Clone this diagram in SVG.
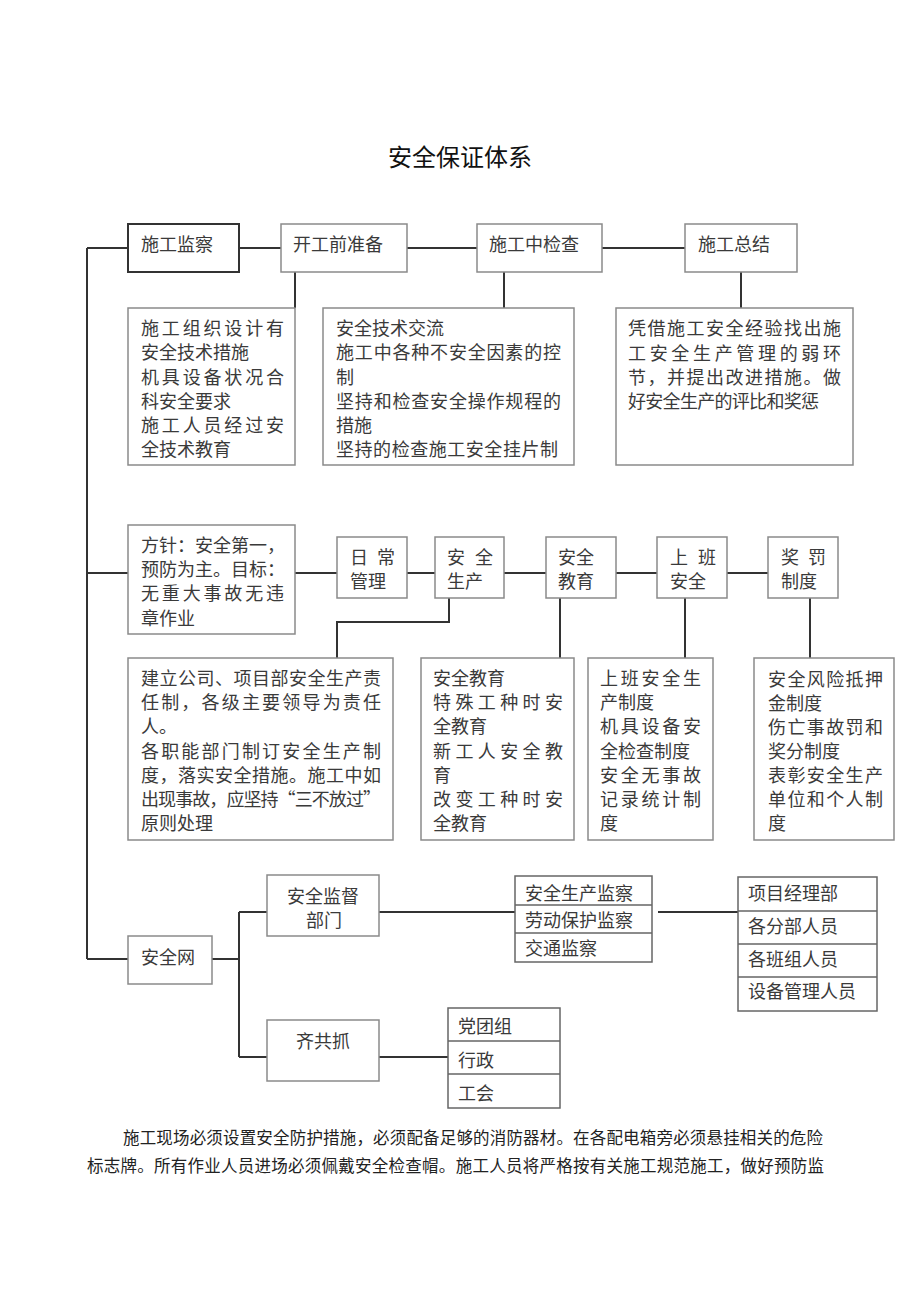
<svg xmlns="http://www.w3.org/2000/svg" width="920" height="1301" viewBox="0 0 920 1301">
<style>
text{font-family:"Noto Sans CJK SC","Noto Sans CJK TC",sans-serif;font-size:18px;fill:#3a3a3a;dominant-baseline:central}
.title{font-size:24px;fill:#111;text-anchor:middle}
.para{font-size:16.5px;fill:#222}
.c{text-anchor:middle}
.box{fill:#fff;stroke:#8a8a8a;stroke-width:1.5}
.dark{fill:#fff;stroke:#333;stroke-width:2}
.grp{fill:#fff;stroke:#666;stroke-width:1.5}
.div{stroke:#666;stroke-width:1.5}
.con{fill:none;stroke:#333;stroke-width:2}
</style>
<rect width="920" height="1301" fill="#fff"/>
<text class="title" x="460" y="155">安全保证体系</text>

<g id="connectors">
<path class="con" d="M87,248V959M87,248H128M87,573H128M87,959H128"/>
<path class="con" d="M239,248H281M407,248H477M602,248H685"/>
<path class="con" d="M295,272V308M504,272V308M741,272V308"/>
<path class="con" d="M295,573H337M407,573H435M504,573H546M616,573H657M727,573H768"/>
<path class="con" d="M449,598V622H337V658M560,598V658M685,598V658M810,598V658"/>
<path class="con" d="M212,959H239M239,912V1057M239,912H267M239,1057H267"/>
<path class="con" d="M379,912H515M658,912H740M379,1057H448"/>
</g>

<g id="n-jiancha"><rect class="dark" x="128" y="224" width="111" height="48"/><text x="141" y="243">施工监察</text></g>
<g id="n-zhunbei"><rect class="box" x="281" y="224" width="126" height="48"/><text x="293" y="243">开工前准备</text></g>
<g id="n-jiancha2"><rect class="box" x="477" y="224" width="125" height="48"/><text x="489" y="243">施工中检查</text></g>
<g id="n-zongjie"><rect class="box" x="685" y="224" width="112" height="48"/><text x="698" y="243">施工总结</text></g>

<g id="n-top1"><rect class="box" x="128" y="308" width="167" height="157"/>
<text x="141" y="327" textLength="143" lengthAdjust="spacing">施工组织设计有</text>
<text x="141" y="351">安全技术措施</text>
<text x="141" y="375.5" textLength="143" lengthAdjust="spacing">机具设备状况合</text>
<text x="141" y="400">科安全要求</text>
<text x="141" y="424" textLength="143" lengthAdjust="spacing">施工人员经过安</text>
<text x="141" y="448">全技术教育</text>
</g>
<g id="n-top2"><rect class="box" x="323" y="308" width="251" height="157"/>
<text x="336" y="327">安全技术交流</text>
<text x="336" y="351" textLength="225" lengthAdjust="spacing">施工中各种不安全因素的控</text>
<text x="336" y="375.5">制</text>
<text x="336" y="400" textLength="225" lengthAdjust="spacing">坚持和检查安全操作规程的</text>
<text x="336" y="424">措施</text>
<text x="336" y="448" textLength="222" lengthAdjust="spacing">坚持的检查施工安全挂片制</text>
</g>
<g id="n-top3"><rect class="box" x="616" y="308" width="237" height="157"/>
<text x="628" y="327" textLength="213" lengthAdjust="spacing">凭借施工安全经验找出施</text>
<text x="628" y="351.5" textLength="213" lengthAdjust="spacing">工安全生产管理的弱环</text>
<text x="628" y="375.5" textLength="213" lengthAdjust="spacing">节，并提出改进措施。做</text>
<text x="628" y="400" textLength="191" lengthAdjust="spacing">好安全生产的评比和奖惩</text>
</g>

<g id="n-fangzhen"><rect class="box" x="128" y="525" width="167" height="109"/>
<text x="141" y="544">方针：安全第一，</text>
<text x="141" y="568">预防为主。目标：</text>
<text x="141" y="592" textLength="143" lengthAdjust="spacing">无重大事故无违</text>
<text x="141" y="617">章作业</text>
</g>
<g id="n-richang"><rect class="box" x="337" y="537" width="70" height="61"/>
<text x="350" y="556" textLength="45" lengthAdjust="spacing">日常</text><text x="350" y="580">管理</text></g>
<g id="n-anquanshengchan"><rect class="box" x="435" y="537" width="69" height="61"/>
<text x="447" y="556" textLength="46" lengthAdjust="spacing">安全</text><text x="447" y="580">生产</text></g>
<g id="n-anquanjiaoyu"><rect class="box" x="546" y="537" width="70" height="61"/>
<text x="558" y="556">安全</text><text x="558" y="580">教育</text></g>
<g id="n-shangban"><rect class="box" x="657" y="537" width="70" height="61"/>
<text x="670" y="556" textLength="46" lengthAdjust="spacing">上班</text><text x="670" y="580">安全</text></g>
<g id="n-jiangfa"><rect class="box" x="768" y="537" width="70" height="61"/>
<text x="781" y="556" textLength="45" lengthAdjust="spacing">奖罚</text><text x="781" y="580">制度</text></g>

<g id="n-mid1"><rect class="box" x="128" y="658" width="265" height="182"/>
<text x="141" y="677" textLength="240" lengthAdjust="spacing">建立公司、项目部安全生产责</text>
<text x="141" y="701" textLength="240" lengthAdjust="spacing">任制，各级主要领导为责任</text>
<text x="141" y="725">人。</text>
<text x="141" y="749.5" textLength="240" lengthAdjust="spacing">各职能部门制订安全生产制</text>
<text x="141" y="773.5" textLength="240" lengthAdjust="spacing">度，落实安全措施。施工中如</text>
<text x="141" y="797.5" textLength="240" lengthAdjust="spacing">出现事故，应坚持“三不放过”</text>
<text x="141" y="821.5">原则处理</text>
</g>
<g id="n-mid2"><rect class="box" x="421" y="658" width="153" height="182"/>
<text x="433" y="677">安全教育</text>
<text x="433" y="701" textLength="130" lengthAdjust="spacing">特殊工种时安</text>
<text x="433" y="725">全教育</text>
<text x="433" y="749.5" textLength="130" lengthAdjust="spacing">新工人安全教</text>
<text x="433" y="773.5">育</text>
<text x="433" y="797.5" textLength="130" lengthAdjust="spacing">改变工种时安</text>
<text x="433" y="821.5">全教育</text>
</g>
<g id="n-mid3"><rect class="box" x="588" y="658" width="125" height="182"/>
<text x="600" y="677" textLength="101" lengthAdjust="spacing">上班安全生</text>
<text x="600" y="701">产制度</text>
<text x="600" y="725" textLength="101" lengthAdjust="spacing">机具设备安</text>
<text x="600" y="749.5">全检查制度</text>
<text x="600" y="773.5" textLength="101" lengthAdjust="spacing">安全无事故</text>
<text x="600" y="797.5" textLength="101" lengthAdjust="spacing">记录统计制</text>
<text x="600" y="821.5">度</text>
</g>
<g id="n-mid4"><rect class="box" x="754" y="658" width="140" height="182"/>
<text x="768" y="678" textLength="115" lengthAdjust="spacing">安全风险抵押</text>
<text x="768" y="702">金制度</text>
<text x="768" y="726" textLength="115" lengthAdjust="spacing">伤亡事故罚和</text>
<text x="768" y="750">奖分制度</text>
<text x="768" y="774" textLength="115" lengthAdjust="spacing">表彰安全生产</text>
<text x="768" y="798" textLength="115" lengthAdjust="spacing">单位和个人制</text>
<text x="768" y="822">度</text>
</g>

<g id="n-anquanwang"><rect class="box" x="128" y="936" width="84" height="48"/><text x="141" y="956">安全网</text></g>
<g id="n-jiandu"><rect class="box" x="267" y="875" width="112" height="61"/>
<text class="c" x="323" y="895">安全监督</text><text class="c" x="324" y="919">部门</text></g>
<g id="n-qigongzhua"><rect class="box" x="267" y="1020" width="112" height="61"/>
<text class="c" x="323" y="1040">齐共抓</text></g>

<g id="n-jiancha-list"><rect class="grp" x="515" y="876" width="137" height="86"/>
<path class="div" d="M515,905H652M515,933H652"/>
<text x="525" y="892">安全生产监察</text>
<text x="525" y="919">劳动保护监察</text>
<text x="525" y="947">交通监察</text>
</g>
<g id="n-renyuan-list"><rect class="grp" x="738" y="877" width="139" height="134"/>
<path class="div" d="M738,911H877M738,944H877M738,977H877"/>
<text x="748" y="892">项目经理部</text>
<text x="748" y="925">各分部人员</text>
<text x="748" y="958">各班组人员</text>
<text x="748" y="990">设备管理人员</text>
</g>
<g id="n-dangtuan-list"><rect class="grp" x="448" y="1008" width="112" height="100"/>
<path class="div" d="M448,1041H560M448,1074H560"/>
<text x="458" y="1025">党团组</text>
<text x="458" y="1059">行政</text>
<text x="458" y="1092">工会</text>
</g>

<text class="para" x="123" y="1137" textLength="700" lengthAdjust="spacing">施工现场必须设置安全防护措施，必须配备足够的消防器材。在各配电箱旁必须悬挂相关的危险</text>
<text class="para" x="87" y="1165" textLength="737" lengthAdjust="spacing">标志牌。所有作业人员进场必须佩戴安全检查帽。施工人员将严格按有关施工规范施工，做好预防监</text>
</svg>
